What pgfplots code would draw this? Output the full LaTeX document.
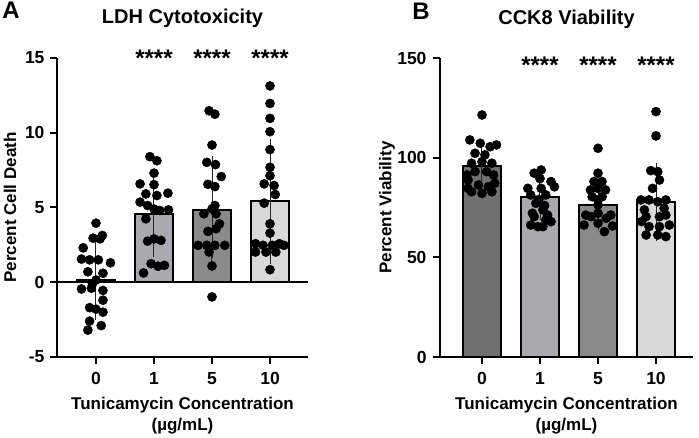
\documentclass[border=0pt]{standalone}
\usepackage{pgfplots}
\pgfplotsset{compat=1.18}
\usepackage{fontspec}
\setmainfont{Liberation Sans}
\definecolor{gDark}{HTML}{707070}
\definecolor{gMid}{HTML}{A9A9AE}
\definecolor{gMid2}{HTML}{8A8A8A}
\definecolor{gLight}{HTML}{D9D9D9}
\tikzset{stars/.style={anchor=base, font=\fontsize{24bp}{24bp}\selectfont\bfseries}}
\begin{document}
\begin{tikzpicture}
\useasboundingbox (0,0) rectangle (699bp,438bp);
\pgfplotsset{
  gp/.style={
    scale only axis, enlargelimits=false, clip=false,
    axis x line=bottom, axis y line=left,
    axis line style={-, line width=2bp, black},
    tick align=outside, major tick length=7bp,
    tick style={line width=2bp, black},
    xtick={0,1,2,3}, xticklabels={0,1,5,10},
    ticklabel style={font=\fontsize{17.5bp}{19bp}\selectfont\bfseries},
    xticklabel style={yshift=-5bp},
    yticklabel style={xshift=-2bp},
    label style={font=\fontsize{17bp}{21bp}\selectfont\bfseries},
    title style={font=\fontsize{20bp}{24bp}\selectfont\bfseries},
    xlabel={Tunicamycin Concentration\\(µg/mL)},
    xlabel style={align=center, at={(axis description cs:0.5,-0.197)}, anchor=center},
  },
  dots/.style={only marks, mark=*, mark size=4.6bp, mark options={draw=black, fill=black}},
  gbar/.style={ybar, bar shift=0pt, bar width=38bp, draw=black, line width=2bp, fill=#1,
     error bars/.cd, y dir=both, y explicit,
     error bar style={line width=1bp, black!85},
     error mark options={line width=1bp, mark size=7.5bp, black!85}},
}
% ---------------- Panel A ----------------
\begin{axis}[gp, at={(57bp,81bp)}, anchor=south west, width=251bp, height=299bp,
  xmin=-0.672, xmax=3.655, ymin=-5, ymax=15,
  ytick={-5,0,5,10,15}, yticklabels={-5,0,5,10,15},
  ylabel={Percent Cell Death},
  ylabel style={at={(axis description cs:-0.187,0.5)}, anchor=center},
  title={LDH Cytotoxicity},
  title style={at={(axis description cs:0.5,1.1137)}, anchor=center}]
\addplot[gbar=gDark] coordinates {(0,0.15) +- (0,2.15)};
\addplot[gbar=gMid] coordinates {(1,4.55) +- (0,2.35)};
\addplot[gbar=gMid2] coordinates {(2,4.8) +- (0,3.15)};
\addplot[gbar=gLight] coordinates {(3,5.42) +- (0,3.68)};
\addplot[black, line width=2bp] coordinates {(-0.672,0) (3.655,0)};
\addplot[dots] coordinates {
(0,3.95) (0.11,3.13) (-0.05,2.95) (0.07,2.9) (-0.22,2.3) (-0.25,1.55) (-0.11,1.5) (0.04,1.5)
(0.25,1.3) (-0.14,0.7) (0.12,0.6) (0,0.15) (-0.06,-0.1) (-0.25,-0.45) (-0.08,-0.4) (0.12,-0.55)
(0.12,-1.2) (-0.11,-1.7) (0,-1.8) (0.12,-2.0) (-0.11,-2.6) (0.09,-2.9) (-0.14,-3.2)};
\addplot[dots] coordinates {
(0.93,8.4) (1.05,8.13) (1,7.3) (0.76,6.58) (1,6.53) (0.86,5.91) (1.05,5.8) (1.24,5.96)
(0.76,5.36) (0.89,5.13) (1,4.9) (1.1,4.8) (1.25,4.84) (0.86,4.24) (0.89,2.75) (1,2.9)
(1.12,2.8) (0.95,1.24) (1.07,1.07) (1.18,1.13) (0.82,0.62)};
\addplot[dots] coordinates {
(1.95,11.47) (2.05,11.24) (2,9.18) (1.91,8.02) (2.06,7.87) (2.16,7.07) (1.93,6.55) (2.05,6.4)
(2.05,5.13) (2,4.9) (1.86,4.58) (2.07,4.58) (2.13,3.91) (1.93,3.4) (2.07,3.58) (1.76,2.47)
(1.91,2.47) (2.05,2.47) (2.22,2.47) (1.95,2.02) (2,1.09) (2,-0.98)};
\addplot[dots] coordinates {
(3,13.13) (3,11.96) (3,10.96) (3,10.07) (3,8.87) (3,7.69) (3,7.13) (2.9,6.58) (3.07,6.47)
(3.09,5.87) (2.9,5.29) (3,3.91) (3,3.29) (2.75,2.58) (2.88,2.47) (3.04,2.47) (3.16,2.58)
(3.24,2.47) (2.75,2.02) (2.93,2.02) (3.1,2.02) (3,0.84)};
\node[stars] at (axis cs:1,14.45) {****};
\node[stars] at (axis cs:2,14.45) {****};
\node[stars] at (axis cs:3,14.45) {****};
\node[font=\fontsize{24bp}{24bp}\selectfont\bfseries] at (axis description cs:-0.183,1.1605) {A};
\end{axis}
% ---------------- Panel B ----------------
\begin{axis}[gp, at={(440bp,81bp)}, anchor=south west, width=253bp, height=299bp,
  xmin=-0.724, xmax=3.638, ymin=0, ymax=150,
  ytick={0,50,100,150}, yticklabels={0,50,100,150},
  yticklabel style={xshift=-1bp},
  ylabel={Percent Viability},
  ylabel style={at={(axis description cs:-0.2095,0.5)}, anchor=center},
  title={CCK8 Viability},
  title style={at={(axis description cs:0.5,1.110)}, anchor=center}]
\addplot[gbar=gDark] coordinates {(0,96) +- (0,8)};
\addplot[gbar=gMid] coordinates {(1,80.4) +- (0,8)};
\addplot[gbar=gMid2] coordinates {(2,76.3) +- (0,9)};
\addplot[gbar=gLight] coordinates {(3,77.9) +- (0,15.9)};
\addplot[dots] coordinates {
(0,121.4) (-0.21,108.9) (-0.03,107.2) (0.14,105.5) (0.25,106.4) (-0.12,102.2) (0.05,101.4)
(-0.18,97.2) (0,98) (0.17,97.2) (-0.12,93) (0.08,93) (0.2,91.3) (-0.26,91.3) (-0.24,88.8)
(-0.06,86.3) (0.11,85.4) (0.22,87.2) (-0.24,84.6) (0,82.1) (0.17,82.9) (-0.18,82.9)};
\addplot[dots] coordinates {
(1.02,93.8) (0.9,92.2) (1.19,88) (1,89.5) (0.79,84.6) (1.25,85.4) (1.02,84.6) (0.84,81.3)
(1.1,81.3) (0.98,79) (0.93,77.1) (1.08,76) (1.05,73.8) (0.87,72.1) (1.13,71.2) (0.9,70.4)
(1.1,68.7) (1.19,67.9) (0.84,66.2) (0.96,65.4) (1.05,65.4)};
\addplot[dots] coordinates {
(2,104.7) (2,92.2) (1.93,88) (2.07,88) (1.87,83.8) (2.13,83.8) (2,84.6) (1.9,80.4) (2.07,80.4)
(2,78.8) (2,76.3) (1.79,71.2) (2,72.1) (2.22,71.2) (1.88,70.4) (2.14,69.6) (1.76,66.2)
(2,67.1) (2.25,65.7) (2.11,62.9)};
\addplot[dots] coordinates {
(3,123.1) (3,110.9) (2.91,93.5) (3.03,93) (3.06,88.8) (2.94,84.6) (2.74,78.8) (2.88,78.8)
(3.03,77.9) (3.17,78.8) (2.8,73.8) (3.14,74.6) (2.83,70.4) (3.06,70.4) (3.17,71.2) (2.75,67.9)
(2.88,65.4) (3.06,65.4) (3.23,66.2) (2.83,61.2) (3.17,60.4) (3.03,61.2)};
\node[stars] at (axis cs:1,142.1) {****};
\node[stars] at (axis cs:2,142.1) {****};
\node[stars] at (axis cs:3,142.1) {****};
\node[font=\fontsize{24bp}{24bp}\selectfont\bfseries] at (axis description cs:-0.075,1.157) {B};
\end{axis}
\end{tikzpicture}
\end{document}
